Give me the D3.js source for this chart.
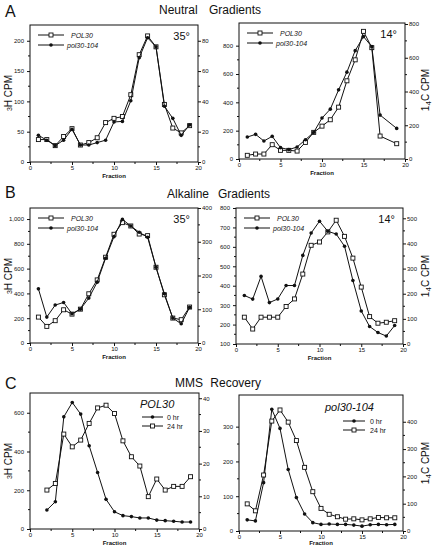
<!DOCTYPE html>
<html>
<head>
<meta charset="utf-8">
<script src="https://cdn.jsdelivr.net/npm/d3@7"></script>
<style>
body { margin: 0; background: #fff; }
text { font-family: "Liberation Sans", Arial, sans-serif; fill: #111; }
</style>
</head>
<body>
<svg id="fig" width="438" height="545"></svg>
<script>
// fractions collected from the gradients
var fractions = [1, 2, 3, 4, 5, 6, 7, 8, 9, 10, 11, 12, 13, 14, 15, 16, 17, 18, 19];
var fractionsNo18 = [1, 2, 3, 4, 5, 6, 7, 8, 9, 10, 11, 12, 13, 14, 15, 16, 17, 19];
var fractionsFrom2 = [2, 3, 4, 5, 6, 7, 8, 9, 10, 11, 12, 13, 14, 15, 16, 17, 18, 19];

// A: neutral gradients
var neutral35Pol30 = [37, 37, 27, 42, 55, 28, 32, 40, 65, 72, 75, 111, 177, 208, 190, 95, 56, 48, 60];
var neutral35Pol104 = [44, 36, 27, 36, 54, 28, 28, 32, 36, 66, 67, 101, 172, 205, 190, 92, 72, 44, 61];
var neutral14Pol30 = [26, 35, 35, 101, 61, 61, 56, 117, 188, 232, 277, 366, 552, 700, 901, 786, 162, 108];
var neutral14Pol104 = [155, 174, 127, 160, 80, 66, 85, 136, 188, 289, 352, 488, 613, 765, 864, 793, 310, 216];

// B: alkaline gradients
var alkaline35Pol30 = [209, 134, 180, 268, 233, 273, 397, 509, 692, 877, 971, 944, 879, 866, 611, 389, 201, 188, 290];
var alkaline35Pol104 = [437, 209, 306, 327, 236, 273, 362, 491, 684, 858, 997, 944, 893, 853, 611, 397, 201, 155, 287];
var alkaline14Pol30 = [238, 177, 238, 238, 238, 293, 332, 460, 608, 625, 677, 737, 654, 542, 393, 241, 207, 212, 220];
var alkaline14Pol104 = [350, 331, 448, 313, 332, 401, 401, 556, 671, 732, 680, 666, 603, 427, 270, 190, 159, 141, 195];

// C: MMS recovery
var mmsPol30Hr0 = [98, 141, 579, 653, 593, 430, 292, 153, 89, 69, 64, 57, 57, 46, 43, 40, 36, 36];
var mmsPol30Hr24 = [201, 235, 490, 424, 459, 545, 625, 639, 596, 455, 373, 325, 167, 258, 201, 220, 220, 270];
var mmsPol104Hr0 = [32, 29, 139, 350, 295, 177, 96, 49, 24, 19, 20, 19, 19, 17, 14, 18, 19, 18, 19];
var mmsPol104Hr24 = [78, 58, 161, 316, 348, 313, 260, 183, 113, 65, 48, 41, 34, 35, 32, 35, 39, 38, 38];

var xTicks = [0, 5, 10, 15, 20];

var svg = d3.select('#fig');

function zip(xs, ys) {
    return xs.map(function(v, i) { return [v, ys[i]]; });
}

function addAxis(g, axis, minorVals, scale, orient) {
    var a = g.call(axis);
    a.select('.domain').remove();
    a.selectAll('.tick line').attr('stroke', '#111');
    a.selectAll('.tick text').attr('font-size', 6).attr('fill', '#111');
    minorVals.forEach(function(v) {
        var p = scale(v);
        if (orient === 'bottom') g.append('line').attr('x1', p).attr('x2', p).attr('y1', 0).attr('y2', 2).attr('stroke', '#111');
        if (orient === 'left') g.append('line').attr('x1', 0).attr('x2', -2).attr('y1', p).attr('y2', p).attr('stroke', '#111');
        if (orient === 'right') g.append('line').attr('x1', 0).attr('x2', 2).attr('y1', p).attr('y2', p).attr('stroke', '#111');
    });
}

function mids(ticks) {
    var out = [];
    for (var i = 0; i < ticks.length - 1; i++) out.push((ticks[i] + ticks[i + 1]) / 2);
    return out;
}

function drawPanel(p) {
    var x = d3.scaleLinear().domain([0, 20]).range([p.l, p.r]);
    var y = d3.scaleLinear().domain(p.yDom).range([p.b, p.t]);
    var y2 = d3.scaleLinear().domain(p.y2Dom).range([p.b, p.t]);

    svg.append('rect')
        .attr('x', p.l).attr('y', p.t)
        .attr('width', p.r - p.l).attr('height', p.b - p.t)
        .attr('fill', 'none').attr('stroke', '#111').attr('stroke-width', 1);

    addAxis(svg.append('g').attr('transform', 'translate(0,' + p.b + ')'),
        d3.axisBottom(x).tickValues(xTicks).tickSize(3).tickPadding(1), mids(xTicks), x, 'bottom');
    addAxis(svg.append('g').attr('transform', 'translate(' + p.l + ',0)'),
        d3.axisLeft(y).tickValues(p.yTicks).tickSize(3).tickPadding(3), mids(p.yTicks), y, 'left');
    addAxis(svg.append('g').attr('transform', 'translate(' + p.r + ',0)'),
        d3.axisRight(y2).tickValues(p.y2Ticks).tickSize(3).tickPadding(1), mids(p.y2Ticks), y2, 'right');

    svg.append('text')
        .attr('x', (p.l + p.r) / 2).attr('y', Math.min(p.b + 16, 545))
        .attr('text-anchor', 'middle').attr('font-size', 6).attr('font-weight', 'bold')
        .text('Fraction');

    var line = d3.line().x(function(d) { return x(d[0]); }).y(function(d) { return y(d[1]); });

    p.series.forEach(function(s) {
        var pts = zip(s.x, s.y);
        svg.append('path').datum(pts)
            .attr('d', line).attr('fill', 'none').attr('stroke', '#111').attr('stroke-width', 1);
        drawMarkers(pts.map(function(d) { return [x(d[0]), y(d[1])]; }), s.open);
    });

    if (p.tempLabel) {
        svg.append('text').attr('x', p.r - 8).attr('y', p.t + 15)
            .attr('text-anchor', 'end').attr('font-size', 11).text(p.tempLabel);
    }

    if (p.legend) p.legend();
}

function drawMarkers(pts, open) {
    pts.forEach(function(d) {
        if (open) {
            svg.append('rect').attr('x', d[0] - 2).attr('y', d[1] - 2)
                .attr('width', 4).attr('height', 4)
                .attr('fill', '#fff').attr('stroke', '#111').attr('stroke-width', 0.9);
        } else {
            svg.append('circle').attr('cx', d[0]).attr('cy', d[1]).attr('r', 1.8).attr('fill', '#111');
        }
    });
}

function legendRow(x1, x2, yy, open, label, tx, size, italic) {
    svg.append('line').attr('x1', x1).attr('x2', x2).attr('y1', yy).attr('y2', yy)
        .attr('stroke', '#111').attr('stroke-width', 1);
    drawMarkers([[(x1 + x2) / 2, yy]], open);
    svg.append('text').attr('x', tx).attr('y', yy + 2.5)
        .attr('font-size', size).attr('font-style', italic ? 'italic' : 'normal').text(label);
}

function strainLegend(l, t) {
    return function() {
        legendRow(l + 8, l + 34, t + 10, true, 'POL30', l + 41, 7, true);
        legendRow(l + 8, l + 34, t + 20, false, 'pol30-104', l + 37, 7, true);
    };
}

// panel layout
drawPanel({ l: 30, r: 198, t: 25, b: 162, yDom: [0, 226], y2Dom: [0, 90.4],
    yTicks: [0, 50, 100, 150, 200], y2Ticks: [0, 20, 40, 60, 80], tempLabel: '35°',
    series: [{ x: fractions, y: neutral35Pol30, open: true }, { x: fractions, y: neutral35Pol104, open: false }],
    legend: strainLegend(30, 25) });

drawPanel({ l: 239, r: 405, t: 23, b: 159, yDom: [0, 960], y2Dom: [0, 806],
    yTicks: [0, 200, 400, 600, 800], y2Ticks: [0, 200, 400, 600, 800], tempLabel: '14°',
    series: [{ x: fractionsNo18, y: neutral14Pol30, open: true }, { x: fractionsNo18, y: neutral14Pol104, open: false }],
    legend: strainLegend(239, 23) });

drawPanel({ l: 30, r: 198, t: 208, b: 343, yDom: [0, 1089], y2Dom: [0, 400],
    yTicks: [0, 200, 400, 600, 800, 1000], y2Ticks: [0, 100, 200, 300, 400], tempLabel: '35°',
    series: [{ x: fractions, y: alkaline35Pol30, open: true }, { x: fractions, y: alkaline35Pol104, open: false }],
    legend: strainLegend(30, 208) });

drawPanel({ l: 236, r: 403, t: 208, b: 344, yDom: [100, 800], y2Dom: [0, 541],
    yTicks: [100, 200, 300, 400, 500, 600, 700, 800], y2Ticks: [0, 100, 200, 300, 400, 500], tempLabel: '14°',
    series: [{ x: fractions, y: alkaline14Pol30, open: true }, { x: fractions, y: alkaline14Pol104, open: false }],
    legend: strainLegend(236, 208) });

drawPanel({ l: 30, r: 199, t: 393, b: 529, yDom: [0, 702], y2Dom: [0, 41.6],
    yTicks: [0, 200, 400, 600], y2Ticks: [0, 10, 20, 30, 40],
    series: [{ x: fractionsFrom2, y: mmsPol30Hr0, open: false }, { x: fractionsFrom2, y: mmsPol30Hr24, open: true }],
    legend: function() {
        svg.append('text').attr('x', 140).attr('y', 408).attr('font-size', 11)
            .attr('font-style', 'italic').text('POL30');
        legendRow(142, 163, 417, false, '0 hr', 167, 7, false);
        legendRow(142, 163, 426, true, '24 hr', 167, 7, false);
    } });

drawPanel({ l: 239, r: 403, t: 395, b: 531, yDom: [0, 391], y2Dom: [0, 498],
    yTicks: [0, 100, 200, 300], y2Ticks: [0, 100, 200, 300, 400],
    series: [{ x: fractions, y: mmsPol104Hr0, open: false }, { x: fractions, y: mmsPol104Hr24, open: true }],
    legend: function() {
        svg.append('text').attr('x', 325).attr('y', 411).attr('font-size', 11)
            .attr('font-style', 'italic').text('pol30-104');
        legendRow(343, 365, 421, false, '0 hr', 370, 7, false);
        legendRow(343, 365, 430, true, '24 hr', 370, 7, false);
    } });

// section letters and titles
[['A', 17, 'Neutral', 159, 'Gradients', 261, 14],
 ['B', 198, 'Alkaline', 167, 'Gradients', 270, 198],
 ['C', 389, 'MMS', 175, 'Recovery', 261, 387]].forEach(function(r) {
    svg.append('text').attr('x', 5).attr('y', r[1]).attr('font-size', 16).text(r[0]);
    svg.append('text').attr('x', r[3]).attr('y', r[6]).attr('font-size', 12).text(r[2]);
    svg.append('text').attr('x', r[5]).attr('y', r[6]).attr('font-size', 12)
        .attr('text-anchor', 'end').text(r[4]);
});

// y axis titles
[93, 276, 461].forEach(function(cy) {
    var t = svg.append('text').attr('transform', 'translate(12,' + cy + ') rotate(-90)')
        .attr('text-anchor', 'middle').attr('font-size', 10);
    t.append('tspan').attr('font-size', 7).attr('dy', 0).text('3');
    t.append('tspan').attr('dy', 0).text('H CPM');
});
[90, 276, 463].forEach(function(cy) {
    var t = svg.append('text').attr('transform', 'translate(429,' + cy + ') rotate(-90)')
        .attr('text-anchor', 'middle').attr('font-size', 10);
    t.append('tspan').text('1');
    t.append('tspan').attr('font-size', 8).attr('dy', 2).text('4');
    t.append('tspan').attr('dy', -2).text('C CPM');
});
</script>
</body>
</html>
